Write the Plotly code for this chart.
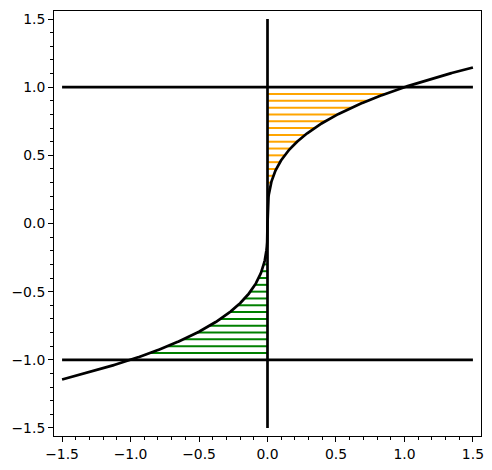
import numpy as np
import plotly.graph_objects as go

# curve samples (cube-root function)
curve_x = np.linspace(-1.5, 1.5, 1201)
curve_y = np.sign(curve_x) * np.abs(curve_x) ** (1.0 / 3.0)

# hatch levels
pos_levels = [0.05, 0.10, 0.15, 0.20, 0.25, 0.30, 0.35, 0.40, 0.45, 0.50,
              0.55, 0.60, 0.65, 0.70, 0.75, 0.80, 0.85, 0.90, 0.95]
neg_levels = [-v for v in pos_levels]

# reference lines
h_levels = [1.0, -1.0]
x_span = [-1.5, 1.5]
y_span = [-1.5, 1.5]

tick_vals = [-1.5, -1.0, -0.5, 0.0, 0.5, 1.0, 1.5]


def seg_trace(levels, color):
    xs, ys = [], []
    for y in levels:
        xs += [0.0, y ** 3, None]
        ys += [y, y, None]
    return go.Scatter(x=xs, y=ys, mode="lines",
                      line=dict(color=color, width=2),
                      hoverinfo="skip", showlegend=False)


fig = go.Figure()
fig.add_trace(seg_trace(pos_levels, "#FFA500"))
fig.add_trace(seg_trace(neg_levels, "#008000"))

hx, hy = [], []
for h in h_levels:
    hx += [x_span[0], x_span[1], None]
    hy += [h, h, None]
fig.add_trace(go.Scatter(x=hx, y=hy, mode="lines",
                         line=dict(color="black", width=2.7), showlegend=False))
fig.add_trace(go.Scatter(x=[0, 0], y=y_span, mode="lines",
                         line=dict(color="black", width=2.7), showlegend=False))
fig.add_trace(go.Scatter(x=curve_x, y=curve_y, mode="lines",
                         line=dict(color="black", width=2.7), showlegend=False))

axis_common = dict(
    showgrid=False, zeroline=False,
    showline=True, linecolor="black", linewidth=1, mirror=True,
    ticks="outside", ticklen=5, tickwidth=1, tickcolor="black",
    tickvals=tick_vals, tickformat=".1f",
    tickfont=dict(family="DejaVu Sans", size=13.9, color="black"),
    minor=dict(dtick=0.1, ticks="outside", ticklen=3, tickwidth=0.8,
               tickcolor="black", showgrid=False),
)

fig.update_layout(
    width=484, height=462,
    margin=dict(l=46, r=11, t=3, b=34),
    plot_bgcolor="white", paper_bgcolor="white",
    xaxis=dict(range=[-1.559, 1.559], **axis_common),
    yaxis=dict(range=[-1.559, 1.559], **axis_common),
)

fig.write_html("out.html")
